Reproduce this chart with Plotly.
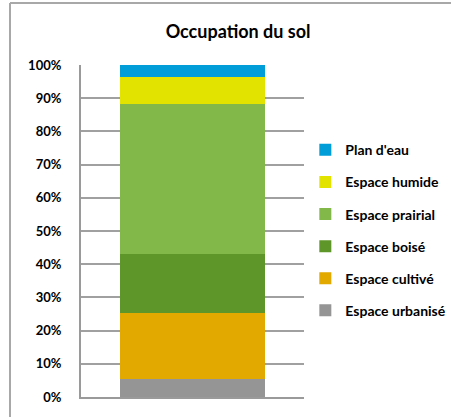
import plotly.graph_objects as go

categories = [""]
series_names = ["Espace urbanisé", "Espace cultivé", "Espace boisé",
                "Espace prairial", "Espace humide", "Plan d'eau"]
series_values = [5.3, 20.0, 17.7, 45.2, 8.3, 3.5]
series_colors = ["#959595", "#E2A900", "#5F962A", "#82B84A", "#E3E300", "#009DD8"]
tick_values = [0, 10, 20, 30, 40, 50, 60, 70, 80, 90, 100]
tick_labels = [f"{v}%" for v in tick_values]

fig = go.Figure()
n = len(series_names)
for i, (name, val, col) in enumerate(zip(series_names, series_values, series_colors)):
    fig.add_trace(go.Bar(
        x=categories, y=[val], name=f"<b>{name}</b>",
        marker=dict(color=col, line=dict(width=0)),
        width=0.65, legendgroup=name, legendrank=1000 + (n - i),
    ))

fig.update_layout(
    barmode="stack",
    width=451, height=417,
    margin=dict(l=81, r=147, t=65, b=20, autoexpand=False),
    paper_bgcolor="white", plot_bgcolor="white",
    font=dict(family="Lato", size=12, color="black"),
    title=dict(text="<b>Occupation du sol</b>", x=0.528, xanchor="center",
               y=0.925, yanchor="middle", font=dict(family="Lato", size=18, color="black")),
    showlegend=True,
    legend=dict(traceorder="grouped", tracegroupgap=10.9,
                x=0.677, xanchor="left", xref="container",
                y=0.678, yanchor="top", yref="container",
                font=dict(family="Lato", size=14, color="black"),
                itemwidth=30, bgcolor="rgba(0,0,0,0)"),
    xaxis=dict(range=[-0.5, 0.5], showticklabels=False, showgrid=False,
               showline=True, linecolor="#9a9a9a", linewidth=2, zeroline=False,
               ticks=""),
    yaxis=dict(range=[0, 100], tickvals=tick_values, ticktext=[f"<b>{t}</b>" for t in tick_labels],
               showgrid=True, gridcolor="#a0a0a0", gridwidth=2,
               showline=True, linecolor="#9a9a9a", linewidth=2, zeroline=False,
               ticks="", ticklabelstandoff=15, tickfont=dict(family="Lato", size=13)),
    shapes=[
        dict(type="line", xref="paper", yref="paper", x0=-71/223, x1=370/223,
             y0=1 + 62/332, y1=1 + 62/332, line=dict(color="#a8a8a8", width=2)),
        dict(type="line", xref="paper", yref="paper", x0=-71/223, x1=-71/223,
             y0=1 + 62/332, y1=-20/332, line=dict(color="#a8a8a8", width=2)),
    ],
)

fig.write_html("out.html", config={"displayModeBar": False},
               post_script="document.body.style.margin='0';")
